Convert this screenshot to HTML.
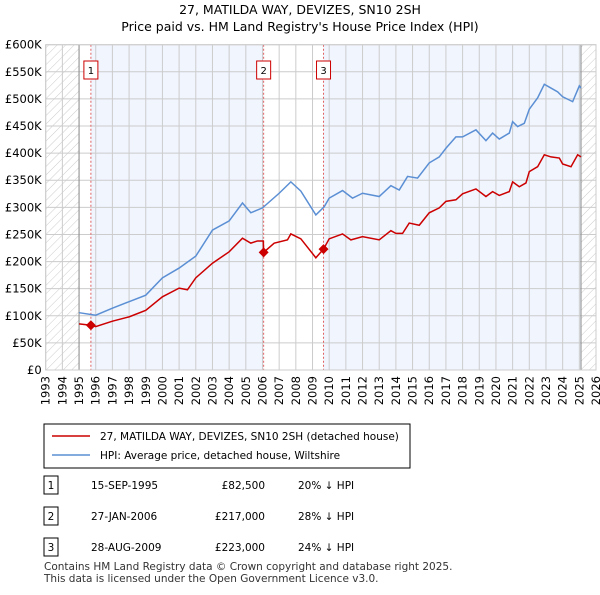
<!DOCTYPE html>
<html><head><meta charset="utf-8"><style>
body{margin:0;background:#fff;font-family:"Liberation Sans","DejaVu Sans",sans-serif;}
svg text{font-family:"DejaVu Sans","Liberation Sans",sans-serif;}
</style></head><body>
<svg id="c" width="600" height="590" xmlns="http://www.w3.org/2000/svg">
<defs><pattern id="hatch" width="6" height="6" patternUnits="userSpaceOnUse" patternTransform="rotate(45)"><line x1="0" y1="0" x2="0" y2="6" stroke="#ccc" stroke-width="1"/></pattern></defs>
<text x="300" y="14" text-anchor="middle" font-size="12.5">27, MATILDA WAY, DEVIZES, SN10 2SH</text>
<text x="300" y="31" text-anchor="middle" font-size="12.5">Price paid vs. HM Land Registry's House Price Index (HPI)</text>
<g id="plot"></g>
<g id="legend">
<rect x="44" y="424" width="366" height="44" fill="#fff" stroke="#000" stroke-width="1"/>
<line x1="52" y1="436" x2="90" y2="436" stroke="#cc0000" stroke-width="1.5"/>
<text x="100" y="440" font-size="10.5">27, MATILDA WAY, DEVIZES, SN10 2SH (detached house)</text>
<line x1="52" y1="455" x2="90" y2="455" stroke="#5b8fd4" stroke-width="1.5"/>
<text x="100" y="459" font-size="10.5">HPI: Average price, detached house, Wiltshire</text>
</g>
<g id="table" font-size="10.5"></g>
<text x="44" y="570" font-size="10.5" fill="#333">Contains HM Land Registry data © Crown copyright and database right 2025.</text>
<text x="44" y="582" font-size="10.5" fill="#333">This data is licensed under the Open Government Licence v3.0.</text>
</svg>
<script>
const hpiYears=[1995.0,1996.0,1997.0,1998.0,1999.0,2000.0,2001.0,2002.0,2003.0,2004.0,2004.8,2005.3,2006.0,2007.0,2007.7,2008.3,2009.2,2009.7,2010.0,2010.8,2011.4,2012.0,2013.0,2013.7,2014.2,2014.7,2015.3,2016.0,2016.6,2017.0,2017.6,2018.0,2018.8,2019.4,2019.8,2020.2,2020.8,2021.0,2021.3,2021.7,2022.0,2022.5,2022.9,2023.3,2023.7,2024.0,2024.4,2024.6,2025.0,2025.1];
const hpiValues=[105.7,101,114,126,138,170,188,210,258,275,308,290,299,326,347,330,286,301,317,331,317,326,320,340,332,357,354,382,393,409,430,430,443,423,437,426,437,458,449,455,481,502,527,520,513,504,498,495,524,520];
const ppYears=[1995.0,1995.7,1996.0,1997.0,1998.0,1999.0,2000.0,2001.0,2001.5,2002.0,2003.0,2004.0,2004.8,2005.3,2005.7,2006.05,2006.07,2006.7,2007.5,2007.7,2008.3,2009.2,2009.66,2010.0,2010.8,2011.3,2012.0,2013.0,2013.7,2014.0,2014.4,2014.8,2015.4,2016.0,2016.6,2017.0,2017.6,2018.0,2018.8,2019.4,2019.8,2020.2,2020.8,2021.0,2021.4,2021.8,2022.0,2022.5,2022.9,2023.3,2023.8,2024.0,2024.5,2024.9,2025.1];
const ppValues=[85,82.5,80,90,98,110,135,151,148,170,197,218,243,234,238,238,217,234,240,251,242,207,223,242,251,240,246,240,257,252,252,271,267,290,299,311,314,325,334,320,329,322,329,347,338,345,366,375,397,393,391,380,375,397,393];
const saleLabels=["1","2","3"];
const saleYears=[1995.71,2006.07,2009.66];
const saleValues=[82.5,217,223];
const saleDates=["15-SEP-1995","27-JAN-2006","28-AUG-2009"];
const salePrices=["£82,500","£217,000","£223,000"];
const saleHpi=["20% ↓ HPI","28% ↓ HPI","24% ↓ HPI"];
const yTicks=[0,50,100,150,200,250,300,350,400,450,500,550,600];
const yTickLabels=["£0","£50K","£100K","£150K","£200K","£250K","£300K","£350K","£400K","£450K","£500K","£550K","£600K"];
const xTicks=[1993,1994,1995,1996,1997,1998,1999,2000,2001,2002,2003,2004,2005,2006,2007,2008,2009,2010,2011,2012,2013,2014,2015,2016,2017,2018,2019,2020,2021,2022,2023,2024,2025,2026];

const X0=45.7,X1=596,Y0=370,Y1=44.7;
const x=y=>X0+(y-1993)/33*(X1-X0);
const yv=v=>Y0-v/600*(Y0-Y1);
const NS="http://www.w3.org/2000/svg";
const plot=document.getElementById('plot');
function mk(tag,attrs,parent){const e=document.createElementNS(NS,tag);for(const k in attrs)e.setAttribute(k,attrs[k]);(parent||plot).appendChild(e);return e;}
let e;
e=mk('rect',{x:X0,y:Y1,width:X1-X0,height:Y0-Y1,fill:'#fff'});


e=mk('rect',{x:x(saleYears[0]),y:Y1,width:x(saleYears[1])-x(saleYears[0]),height:Y0-Y1,fill:'#f0f5fe'});


e=mk('rect',{x:x(saleYears[2]),y:Y1,width:x(2025.1)-x(saleYears[2]),height:Y0-Y1,fill:'#f0f5fe'});


e=mk('rect',{x:X0,y:Y1,width:x(1995)-X0,height:Y0-Y1,fill:'url(#hatch)'});


e=mk('rect',{x:x(2025.1),y:Y1,width:X1-x(2025.1),height:Y0-Y1,fill:'url(#hatch)'});


yTicks.forEach((t,i)=>{
 e=mk('line',{x1:X0,x2:X1,y1:yv(t),y2:yv(t),stroke:'#ccc','stroke-width':1});
 
 
 e=mk('text',{x:X0-4,y:yv(t)+4,'text-anchor':'end','font-size':11.5});
 e.textContent=yTickLabels[i];
 
 
});
xTicks.forEach(t=>{
 e=mk('line',{x1:x(t),x2:x(t),y1:Y1,y2:Y0,stroke:'#ccc','stroke-width':1});
 
 
 e=mk('text',{x:0,y:0,'font-size':11.5,'text-anchor':'end',transform:`translate(${x(t)+4},${Y0+6}) rotate(-90)`});
 e.textContent=t;
 
 
});
e=mk('line',{x1:x(1995),x2:x(1995),y1:Y1,y2:Y0,stroke:'#888','stroke-width':1});


e=mk('line',{x1:x(2025.1),x2:x(2025.1),y1:Y1,y2:Y0,stroke:'#888','stroke-width':1});


saleYears.forEach((s,i)=>{
 e=mk('line',{x1:x(s),x2:x(s),y1:Y1,y2:Y0,stroke:'#e06060','stroke-width':1,'stroke-dasharray':'2,2'});
 
 
 e=mk('rect',{x:x(s)-7,y:61,width:14,height:18,fill:'#fff',stroke:'#cc0000','stroke-width':1});
 
 
 e=mk('text',{x:x(s),y:74,'text-anchor':'middle','font-size':10});
 e.textContent=saleLabels[i];
 
 
});
e=mk('polyline',{points:hpiYears.map((t,i)=>x(t)+','+yv(hpiValues[i])).join(' '),fill:'none',stroke:'#5b8fd4','stroke-width':1.5});


e=mk('polyline',{points:ppYears.map((t,i)=>x(t)+','+yv(ppValues[i])).join(' '),fill:'none',stroke:'#cc0000','stroke-width':1.5});


saleYears.forEach((s,i)=>{
 const cx=x(s),cy=yv(saleValues[i]);
 e=mk('polygon',{points:`${cx},${cy-5} ${cx+5},${cy} ${cx},${cy+5} ${cx-5},${cy}`,fill:'#cc0000'});
 
 
});
e=mk('rect',{x:X0,y:Y1,width:X1-X0,height:Y0-Y1,fill:'none',stroke:'#ccc'});


const tbl=document.getElementById('table');
const rowsY=[486,517,548];
saleLabels.forEach((l,i)=>{
 const ry=rowsY[i];
 e=mk('rect',{x:44,y:ry-10,width:14,height:18,fill:'#fff',stroke:'#000'},tbl);
 
 
 e=mk('text',{x:51,y:ry+3,'text-anchor':'middle'},tbl);e.textContent=l;
 
 
 e=mk('text',{x:91,y:ry+3},tbl);e.textContent=saleDates[i];
 
 
 e=mk('text',{x:265,y:ry+3,'text-anchor':'end'},tbl);e.textContent=salePrices[i];
 
 
 e=mk('text',{x:298,y:ry+3},tbl);e.textContent=saleHpi[i];
 
 
});
</script>
</body></html>
